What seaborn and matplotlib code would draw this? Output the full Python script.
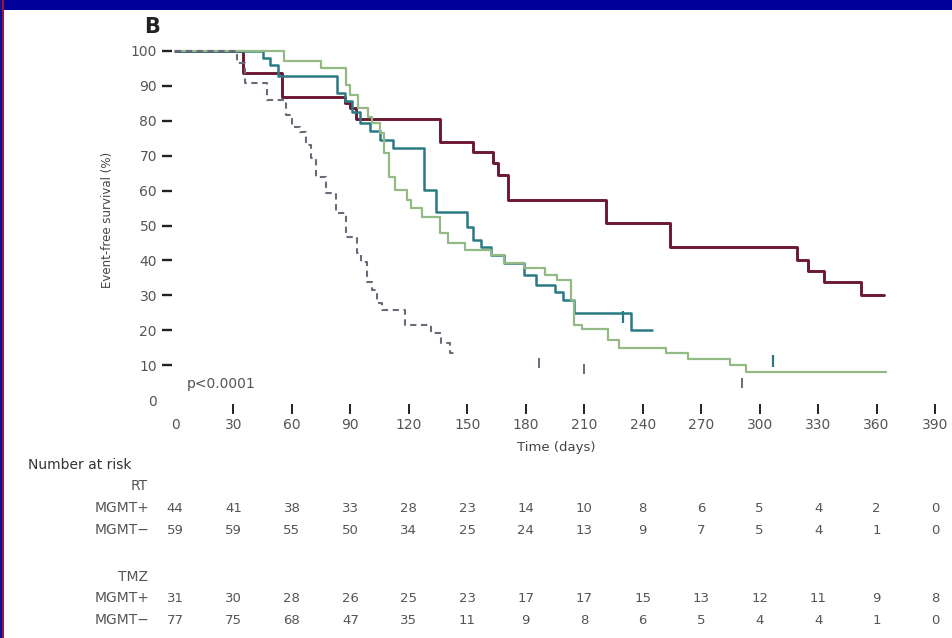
import numpy as np
import pandas as pd
import matplotlib
matplotlib.use("Agg")
import matplotlib.pyplot as plt
import matplotlib.transforms as mtrans
from matplotlib.patches import Rectangle
import seaborn as sns

# ---- Kaplan-Meier step curves (time in days, event-free survival in %) ----
maroon_t = [0, 35, 55, 87, 90, 93, 136, 153, 163, 166, 171, 221, 254, 319, 325, 333, 352, 364]
maroon_s = [100, 93.7, 86.8, 85.1, 83.7, 80.5, 73.9, 71.1, 67.9, 64.5, 57.3, 50.7, 43.8, 40.1, 37.0, 33.8, 30.1, 30.1]

teal_t = [0, 45, 49, 53, 83, 87, 91, 95, 100, 105, 112, 128, 134, 150, 153, 157, 162, 169,
          179, 185, 195, 199, 205, 234, 245]
teal_s = [100, 98, 96, 92.8, 88, 85.7, 82.5, 79.5, 77, 74.5, 72.2, 60.2, 53.9, 49.6, 45.8, 43.8, 41.5, 39.3,
          35.8, 33.0, 30.9, 28.7, 25.0, 20.1, 20.1]

green_t = [0, 56, 75, 88, 90, 94, 99, 101, 105, 107, 110, 113, 119, 121, 127, 136, 140, 149, 162, 169,
           179, 190, 196, 203, 205, 209, 222, 228, 252, 263, 285, 293, 365]
green_s = [100, 97, 95.2, 90.3, 87.4, 83.7, 81.1, 79.4, 76.5, 70.8, 63.9, 60.2, 57.3, 55.0, 52.4, 47.9, 45.0, 43.0, 41.5, 39.3,
           37.8, 35.8, 34.4, 28.7, 21.5, 20.3, 17.2, 14.9, 13.5, 11.7, 10.0, 8.0, 8.0]

gray_t = [0, 32, 36, 47, 57, 60, 64, 67, 70, 72.5, 77.5, 82.5, 87.7, 93.4, 95.4, 98.5, 101, 103.6,
          106, 118, 131.6, 136.7, 141.3, 143]
gray_s = [100, 96.6, 90.8, 86.0, 81.7, 78.2, 76.8, 73.1, 69.3, 63.9, 59.3, 53.6, 46.7, 42.1, 39.5, 33.8, 31.5, 27.8,
          25.8, 21.5, 19.2, 16.3, 13.5, 13.5]

# censored observations drawn as short vertical marks
teal_cens_t = [230, 307]
teal_cens_s = [23.9, 11.2]
gray_cens_t = [187, 210, 291]
gray_cens_s = [10.5, 9.0, 5.0]

# ---- axes ----
x_ticks = [0, 30, 60, 90, 120, 150, 180, 210, 240, 270, 300, 330, 360, 390]
y_ticks = [0, 10, 20, 30, 40, 50, 60, 70, 80, 90, 100]

# ---- number at risk ----
rt_pos = [44, 41, 38, 33, 28, 23, 14, 10, 8, 6, 5, 4, 2, 0]
rt_neg = [59, 59, 55, 50, 34, 25, 24, 13, 9, 7, 5, 4, 1, 0]
tmz_pos = [31, 30, 28, 26, 25, 23, 17, 17, 15, 13, 12, 11, 9, 8]
tmz_neg = [77, 75, 68, 47, 35, 11, 9, 8, 6, 5, 4, 4, 1, 0]

colors = {"maroon": "#6c1833", "teal": "#2a7a84", "green": "#93b985", "gray": "#6a6a7c"}

sns.set_theme(style="white")
plt.rcParams["font.family"] = ["DejaVu Sans"]

W, H = 953, 638
fig = plt.figure(figsize=(W / 100, H / 100), dpi=100)
fig.patch.set_facecolor("white")

def fx(px):
    return px / W

def fy(py):
    return 1 - py / H

ax = fig.add_axes([fx(175), fy(400), fx(935) - fx(175), fy(51) - fy(400)])
ax.set_facecolor("white")

curves = [
    ("maroon", maroon_t, maroon_s, 2.1, "-"),
    ("teal", teal_t, teal_s, 1.8, "-"),
    ("green", green_t, green_s, 1.6, "-"),
    ("gray", gray_t, gray_s, 1.5, (0, (3.0, 2.2))),
]
for name, t, s, lw, ls in curves:
    df = pd.DataFrame({"day": t, "surv": s})
    sns.lineplot(data=df, x="day", y="surv", ax=ax, color=colors[name], lw=lw,
                 linestyle=ls, drawstyle="steps-post", estimator=None, sort=False,
                 legend=False, clip_on=False)

ax.plot(teal_cens_t, teal_cens_s, ls="none", marker="|", ms=8, mew=1.6, color=colors["teal"])
ax.plot(gray_cens_t, gray_cens_s, ls="none", marker="|", ms=7, mew=1.4, color=colors["gray"])

ax.set_xlim(0, 390)
ax.set_ylim(0, 100)
ax.set_xticks(x_ticks)
ax.set_yticks(y_ticks)
ax.set_xlabel("")
ax.set_ylabel("")
for side in ["top", "right", "left", "bottom"]:
    ax.spines[side].set_visible(False)
ax.spines["left"].set_position(("outward", 2))
ax.spines["bottom"].set_position(("outward", 3))
ax.tick_params(axis="y", direction="out", length=7.5, width=1.7, color="#222222",
               pad=3.5, labelsize=10, labelcolor="#555555", left=True)
ax.tick_params(axis="x", direction="out", length=7.5, width=1.4, color="#222222",
               pad=2.5, labelsize=10, labelcolor="#555555", bottom=True)
ax.xaxis.get_major_ticks()[0].tick1line.set_visible(False)
ax.yaxis.get_major_ticks()[0].tick1line.set_visible(False)

# axis titles and annotations
fig.text(fx(108), fy(220), "Event-free survival (%)", rotation=90, ha="center", va="center",
         fontsize=8.5, color="#444444")
fig.text(fx(556), fy(447), "Time (days)", ha="center", va="center", fontsize=9.5, color="#444444")
fig.text(fx(152), fy(27), "B", ha="center", va="center", fontsize=15, fontweight="bold", color="#222222")
ax.text(6, 4.5, "p<0.0001", ha="left", va="center", fontsize=10, color="#555555")

# number-at-risk table
tr = mtrans.blended_transform_factory(ax.transData, fig.transFigure)
fig.text(fx(28), fy(465), "Number at risk", ha="left", va="center", fontsize=10, color="#333333")
fig.text(fx(148), fy(486), "RT", ha="right", va="center", fontsize=10, color="#555555")
fig.text(fx(148), fy(577), "TMZ", ha="right", va="center", fontsize=10, color="#555555")
rows = [("MGMT+", rt_pos, 508), ("MGMT\u2212", rt_neg, 530),
        ("MGMT+", tmz_pos, 598), ("MGMT\u2212", tmz_neg, 620)]
for label, vals, ypx in rows:
    fig.text(fx(149), fy(ypx), label, ha="right", va="center", fontsize=10, color="#555555")
    for d, v in zip(x_ticks, vals):
        ax.text(d, fy(ypx), str(v), transform=tr, ha="center", va="center",
                fontsize=9.5, color="#555555")

# page frame: navy band on top, thin navy/red strip on the left
fig.patches.append(Rectangle((0, fy(10)), 1, 10 / H, transform=fig.transFigure,
                             facecolor="#00009a", edgecolor="none", zorder=10))
fig.patches.append(Rectangle((0, 0), 2.5 / W, 1, transform=fig.transFigure,
                             facecolor="#10108a", edgecolor="none", zorder=10))
fig.patches.append(Rectangle((2.5 / W, 0), 1.5 / W, 1, transform=fig.transFigure,
                             facecolor="#a01040", edgecolor="none", zorder=10))

fig.savefig("out.png", dpi=100)
